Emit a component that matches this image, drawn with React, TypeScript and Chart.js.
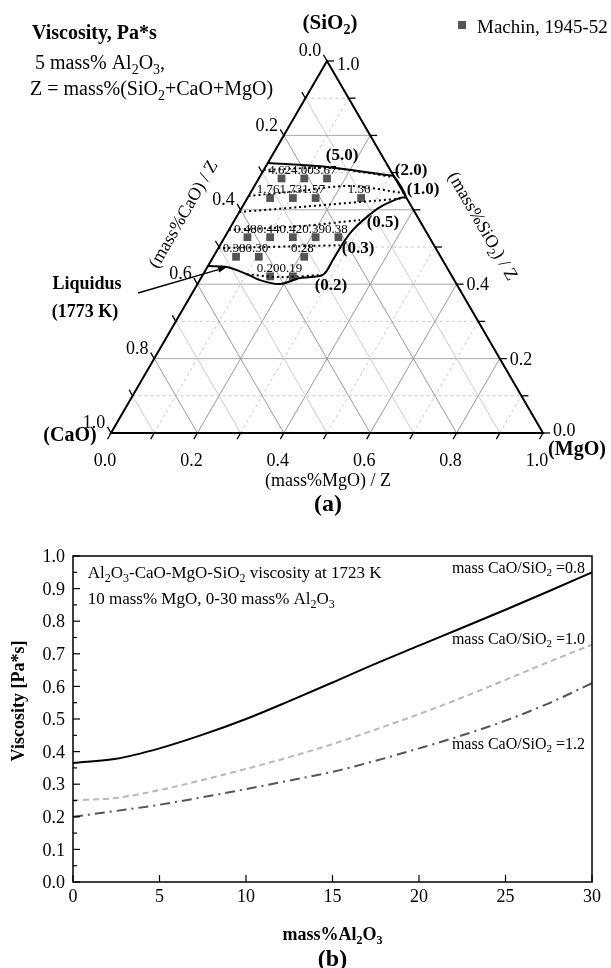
import React, { useEffect, useRef } from "react";
import { Chart, registerables } from "chart.js";
Chart.register(...registerables);

const FONT = '"Liberation Serif", "Times New Roman", Times, serif';
const SQ3_2 = Math.sqrt(3) / 2;

// ---------------- Panel (a): ternary ----------------
const AL2O3_PCT = 5;
const Z_PCT = 100 - AL2O3_PCT;
// Machin, 1945-52 measurements (mass%, Al2O3 = 5)
const machinSiO2 = [65, 65, 65, 60, 60, 60, 60, 50, 50, 50, 50, 50, 45, 45, 45, 40, 40];
const machinMgO = [5, 10, 15, 5, 10, 15, 25, 5, 10, 15, 20, 25, 5, 10, 20, 15, 20];
const machinVisc = ["4.62", "4.00", "3.67", "1.76", "1.73", "1.57", "1.36", "0.48", "0.44", "0.42", "0.39", "0.38", "0.38", "0.30", "0.28", "0.20", "0.19"];

// Liquidus at 1773 K (fractions SiO2/Z, MgO/Z)
const liquidusSiO2 = [0.726, 0.715, 0.6935, 0.69, 0.635, 0.632, 0.6075, 0.581, 0.546, 0.511, 0.465, 0.425, 0.4167, 0.4005, 0.411, 0.427, 0.446, 0.449];
const liquidusMgO = [0.0, 0.1425, 0.292, 0.31, 0.365, 0.353, 0.319, 0.302, 0.287, 0.282, 0.281, 0.278, 0.229, 0.191, 0.139, 0.101, 0.0455, 0.0];

// Iso-viscosity lines (dotted)
const iso20SiO2 = [0.707, 0.712, 0.688];
const iso20MgO = [0.0, 0.151, 0.312];
const iso10SiO2 = [0.637, 0.651, 0.664, 0.645];
const iso10MgO = [0.0, 0.112, 0.221, 0.355];
const iso07SiO2 = [0.594, 0.6075, 0.63];
const iso07MgO = [0.0, 0.134, 0.355];
const iso05SiO2 = [0.546, 0.556, 0.5726];
const iso05MgO = [0.0, 0.16, 0.29];
const iso03SiO2 = [0.497, 0.5, 0.505];
const iso03MgO = [0.0, 0.111, 0.277];
const iso02SiO2 = [0.427, 0.419, 0.425];
const iso02MgO = [0.101, 0.181, 0.278];

const isoLabels = ["(5.0)", "(2.0)", "(1.0)", "(0.5)", "(0.3)", "(0.2)"];
const isoLabelSiO2 = [0.75, 0.7097, 0.6586, 0.5699, 0.5, 0.4005];
const isoLabelMgO = [0.16, 0.3396, 0.393, 0.3446, 0.3218, 0.309];

const gridLevels = [0.1, 0.2, 0.3, 0.4, 0.5, 0.6, 0.7, 0.8, 0.9];
const tickLevels = [0, 0.1, 0.2, 0.3, 0.4, 0.5, 0.6, 0.7, 0.8, 0.9, 1.0];
const caoTickLabels = ["0.0", "0.2", "0.4", "0.6", "0.8", "1.0"];
const sio2TickLabels = ["1.0", "0.4", "0.2", "0.0"];
const mgoTickLabels = ["0.0", "0.2", "0.4", "0.6", "0.8", "1.0"];

// ---------------- Panel (b): line chart ----------------
const al2o3 = [0, 2.5, 5, 7.5, 10, 12.5, 15, 17.5, 20, 22.5, 25, 27.5, 30];
const visc08 = [0.365, 0.378, 0.41, 0.452, 0.5, 0.555, 0.612, 0.67, 0.725, 0.78, 0.835, 0.892, 0.95];
const visc10 = [0.25, 0.258, 0.282, 0.313, 0.347, 0.383, 0.423, 0.468, 0.515, 0.566, 0.62, 0.675, 0.728];
const visc12 = [0.2, 0.218, 0.237, 0.26, 0.285, 0.311, 0.338, 0.372, 0.41, 0.45, 0.495, 0.548, 0.61];
const seriesLabels = ["mass CaO/SiO_2 =0.8", "mass CaO/SiO_2 =1.0", "mass CaO/SiO_2 =1.2"];
const seriesLabelY = [0.966, 0.748, 0.426];
const xTickValues = [0, 5, 10, 15, 20, 25, 30];
const yTickValues = [0, 0.1, 0.2, 0.3, 0.4, 0.5, 0.6, 0.7, 0.8, 0.9, 1.0];

// ---------------- helpers ----------------
function richSegs(str: string) {
  const segs: { t: string; sub: boolean }[] = [];
  let buf = "";
  for (let i = 0; i < str.length; i++) {
    if (str[i] === "_" && i + 1 < str.length) {
      if (buf) { segs.push({ t: buf, sub: false }); buf = ""; }
      segs.push({ t: str[i + 1], sub: true });
      i++;
    } else buf += str[i];
  }
  if (buf) segs.push({ t: buf, sub: false });
  return segs;
}

function drawText(ctx: CanvasRenderingContext2D, str: string, x: number, y: number,
  o: { size: number; bold?: boolean; align?: "left" | "center" | "right"; color?: string; rotate?: number }) {
  const segs = richSegs(str);
  const font = (sz: number) => `${o.bold ? "bold " : ""}${sz}px ${FONT}`;
  const subSize = Math.round(o.size * 0.68);
  let w = 0;
  const ws = segs.map((s) => { ctx.font = font(s.sub ? subSize : o.size); const m = ctx.measureText(s.t).width; w += m; return m; });
  ctx.save();
  ctx.translate(x, y);
  if (o.rotate) ctx.rotate(o.rotate);
  ctx.fillStyle = o.color || "#000";
  ctx.textBaseline = "alphabetic";
  ctx.textAlign = "left";
  let cx = o.align === "left" ? 0 : o.align === "right" ? -w : -w / 2;
  const base = o.size * 0.34;
  segs.forEach((s, i) => {
    ctx.font = font(s.sub ? subSize : o.size);
    ctx.fillText(s.t, cx, base + (s.sub ? o.size * 0.24 : 0));
    cx += ws[i];
  });
  ctx.restore();
}

const tern = (s: number, m: number) => ({ x: m + s / 2, y: s * SQ3_2 });
const toPts = (S: number[], M: number[]) => S.map((s, i) => tern(s, M[i]));

type Pt = [number, number];

const ternaryDecor = {
  id: "ternaryDecor",
  beforeDatasetsDraw(chart: any) {
    const { ctx, scales } = chart;
    const P = (s: number, m: number): Pt => [scales.x.getPixelForValue(m + s / 2), scales.y.getPixelForValue(s * SQ3_2)];
    const seg = (p: Pt, q: Pt) => { ctx.beginPath(); ctx.moveTo(p[0], p[1]); ctx.lineTo(q[0], q[1]); ctx.stroke(); };
    ctx.save();
    ctx.lineWidth = 1;
    for (const v of gridLevels) {
      const major = Math.round(v * 10) % 2 === 0;
      ctx.strokeStyle = major ? "#a8a8a8" : "#c9c9c9";
      ctx.setLineDash(major ? [] : [3, 3]);
      seg(P(v, 0), P(v, 1 - v));
      ctx.strokeStyle = major ? "#9a9a9a" : "#cdcdcd";
      ctx.setLineDash([]);
      seg(P(1 - v, 0), P(0, 1 - v));
      ctx.strokeStyle = major ? "#9a9a9a" : "#c9c9c9";
      ctx.setLineDash(major ? [] : [3, 3]);
      seg(P(0, v), P(1 - v, v));
    }
    ctx.restore();
  },
  afterDatasetsDraw(chart: any) {
    const { ctx, scales } = chart;
    const P = (s: number, m: number): Pt => [scales.x.getPixelForValue(m + s / 2), scales.y.getPixelForValue(s * SQ3_2)];
    const seg = (p: Pt, q: Pt) => { ctx.beginPath(); ctx.moveTo(p[0], p[1]); ctx.lineTo(q[0], q[1]); ctx.stroke(); };
    ctx.save();
    ctx.setLineDash([]);
    ctx.strokeStyle = "#000";
    ctx.lineWidth = 2;
    const A = P(1, 0), B = P(0, 0), C = P(0, 1);
    ctx.beginPath(); ctx.moveTo(A[0], A[1]); ctx.lineTo(B[0], B[1]); ctx.lineTo(C[0], C[1]); ctx.closePath(); ctx.stroke();
    // ticks
    ctx.lineWidth = 1.3;
    const T = 7;
    for (const v of tickLevels) {
      const pl = P(1 - v, 0); seg(pl, [pl[0] - T * 0.5, pl[1] - T * SQ3_2]);
      const pr = P(v, 1 - v); seg(pr, [pr[0] + T, pr[1]]);
      const pb = P(0, v); seg(pb, [pb[0] - T * 0.5, pb[1] + T * SQ3_2]);
    }
    // tick labels
    caoTickLabels.forEach((t) => { const v = parseFloat(t); const p = P(1 - v, 0); drawText(ctx, t, p[0] - 17, p[1] - 11, { size: 18 }); });
    sio2TickLabels.forEach((t) => { const v = parseFloat(t); const p = P(v, 1 - v); drawText(ctx, t, p[0] + 10, p[1] + (v === 1 ? 3 : v === 0 ? -3 : 0), { size: 18, align: "left" }); });
    mgoTickLabels.forEach((t) => { const v = parseFloat(t); const p = P(0, v); drawText(ctx, t, p[0] - 6, p[1] + 27, { size: 18 }); });
    // corner component labels
    drawText(ctx, "(SiO_2)", A[0] + 3, A[1] - 39, { size: 21, bold: true });
    drawText(ctx, "(CaO)", B[0] - 41, B[1] + 1, { size: 20, bold: true });
    drawText(ctx, "(MgO)", C[0] + 34, C[1] + 15, { size: 20, bold: true });
    // axis titles
    const lm = P(0.6, 0);
    drawText(ctx, "(mass%CaO) / Z", lm[0] - 58, lm[1] + 4, { size: 18, rotate: -Math.PI / 3 });
    const rm = P(0.6, 0.4);
    drawText(ctx, "(mass%SiO_2) / Z", rm[0] + 70, rm[1] + 16, { size: 18, rotate: Math.PI / 3 });
    const bm = P(0, 0.5);
    drawText(ctx, "(mass%MgO) / Z", bm[0] + 1, bm[1] + 47, { size: 18 });
    drawText(ctx, "(a)", bm[0] + 1, bm[1] + 70, { size: 24, bold: true });
    // iso-viscosity labels
    isoLabels.forEach((t, i) => { const p = P(isoLabelSiO2[i], isoLabelMgO[i]); drawText(ctx, t, p[0], p[1], { size: 17, bold: true }); });
    // Machin values
    machinVisc.forEach((t, i) => { const p = P(machinSiO2[i] / Z_PCT, machinMgO[i] / Z_PCT); drawText(ctx, t, p[0] - 2, p[1] - 9, { size: 13 }); });
    // Liquidus annotation + arrow
    drawText(ctx, "Liquidus", 87, 283, { size: 18, bold: true });
    drawText(ctx, "(1773 K)", 85, 311, { size: 18, bold: true });
    const tip = P(liquidusSiO2[16], liquidusMgO[16]);
    const st: Pt = [138, 293];
    ctx.lineWidth = 1.5;
    const ang = Math.atan2(tip[1] - st[1], tip[0] - st[0]);
    const back: Pt = [tip[0] - 9 * Math.cos(ang), tip[1] - 9 * Math.sin(ang)];
    seg(st, back);
    ctx.fillStyle = "#000";
    ctx.beginPath();
    ctx.moveTo(tip[0], tip[1]);
    ctx.lineTo(back[0] + 3 * Math.sin(ang), back[1] - 3 * Math.cos(ang));
    ctx.lineTo(back[0] - 3 * Math.sin(ang), back[1] + 3 * Math.cos(ang));
    ctx.closePath(); ctx.fill();
    // header text
    drawText(ctx, "Viscosity, Pa*s", 32, 32, { size: 20, bold: true, align: "left" });
    drawText(ctx, `${AL2O3_PCT} mass% Al_2O_3,`, 35, 62, { size: 20, align: "left" });
    drawText(ctx, "Z = mass%(SiO_2+CaO+MgO)", 30, 88, { size: 20, align: "left" });
    // legend
    ctx.fillStyle = "#555";
    ctx.fillRect(458, 21, 8, 8);
    drawText(ctx, "Machin, 1945-52", 477, 27, { size: 19, align: "left" });
    ctx.restore();
  },
};

const frameDecor = {
  id: "frameDecor",
  afterDatasetsDraw(chart: any) {
    const { ctx, chartArea: ca, scales } = chart;
    const X = (v: number) => scales.x.getPixelForValue(v);
    const Y = (v: number) => scales.y.getPixelForValue(v);
    ctx.save();
    ctx.setLineDash([]);
    ctx.strokeStyle = "#000";
    ctx.lineWidth = 1.5;
    ctx.strokeRect(ca.left, ca.top, ca.right - ca.left, ca.bottom - ca.top);
    ctx.lineWidth = 1.2;
    yTickValues.forEach((v, i) => {
      const py = Y(v);
      ctx.beginPath(); ctx.moveTo(ca.left, py); ctx.lineTo(ca.left + 7, py); ctx.stroke();
      if (i < yTickValues.length - 1) {
        const pm = Y(v + 0.05);
        ctx.beginPath(); ctx.moveTo(ca.left, pm); ctx.lineTo(ca.left + 4, pm); ctx.stroke();
      }
      drawText(ctx, v.toFixed(1), ca.left - 8, py, { size: 18, align: "right" });
    });
    xTickValues.forEach((v) => {
      const px = X(v);
      ctx.beginPath(); ctx.moveTo(px, ca.bottom); ctx.lineTo(px, ca.bottom - 7); ctx.stroke();
      drawText(ctx, String(v), px, ca.bottom + 14, { size: 18 });
    });
    const cx = (ca.left + ca.right) / 2;
    drawText(ctx, "mass%Al_2O_3", cx, ca.bottom + 52, { size: 18, bold: true });
    drawText(ctx, "(b)", cx, ca.bottom + 76, { size: 24, bold: true });
    drawText(ctx, "Viscosity [Pa*s]", 18, (ca.top + ca.bottom) / 2 - 18, { size: 18, bold: true, rotate: -Math.PI / 2 });
    drawText(ctx, "Al_2O_3-CaO-MgO-SiO_2 viscosity at 1723 K", X(0.85), Y(0.95), { size: 17, align: "left" });
    drawText(ctx, "10 mass% MgO, 0-30 mass% Al_2O_3", X(0.85), Y(0.87), { size: 17, align: "left" });
    seriesLabels.forEach((t, i) => drawText(ctx, t, X(29.6), Y(seriesLabelY[i]), { size: 16, align: "right" }));
    ctx.restore();
  },
};

const lineDs = (S: number[], M: number[], dash: number[]) => ({
  data: toPts(S, M), showLine: true, borderColor: "#000", borderWidth: 2, borderDash: dash,
  pointRadius: 0, tension: 0.3, fill: false,
});

export default function App() {
  const refA = useRef<HTMLCanvasElement>(null);
  const refB = useRef<HTMLCanvasElement>(null);
  useEffect(() => {
    const dotted = [2, 3];
    const chartA = new Chart(refA.current as HTMLCanvasElement, {
      type: "scatter",
      data: {
        datasets: [
          lineDs(liquidusSiO2, liquidusMgO, []),
          lineDs(iso20SiO2, iso20MgO, dotted),
          lineDs(iso10SiO2, iso10MgO, dotted),
          lineDs(iso07SiO2, iso07MgO, dotted),
          lineDs(iso05SiO2, iso05MgO, dotted),
          lineDs(iso03SiO2, iso03MgO, dotted),
          lineDs(iso02SiO2, iso02MgO, dotted),
          {
            data: machinSiO2.map((s, i) => tern(s / Z_PCT, machinMgO[i] / Z_PCT)),
            showLine: false, pointStyle: "rect", pointRadius: 5.5,
            backgroundColor: "#555", borderColor: "#555", borderWidth: 0,
          },
        ] as any,
      },
      options: {
        responsive: false, animation: false, devicePixelRatio: 1, events: [],
        layout: { padding: { left: 111, right: 68, top: 61, bottom: 87 } },
        scales: {
          x: { type: "linear", min: 0, max: 1, display: false },
          y: { type: "linear", min: 0, max: SQ3_2, display: false },
        },
        plugins: { legend: { display: false }, tooltip: { enabled: false } },
      },
      plugins: [ternaryDecor],
    } as any);

    const mk = (vals: number[], color: string, dash: number[]) => ({
      data: al2o3.map((x, i) => ({ x, y: vals[i] })), showLine: true, borderColor: color,
      borderWidth: 2, borderDash: dash, pointRadius: 0, tension: 0.4, cubicInterpolationMode: "monotone", fill: false,
    });
    const chartB = new Chart(refB.current as HTMLCanvasElement, {
      type: "scatter",
      data: {
        datasets: [
          mk(visc08, "#000", []),
          mk(visc10, "#b8b8b8", [6, 4]),
          mk(visc12, "#555", [10, 5, 2, 5]),
        ] as any,
      },
      options: {
        responsive: false, animation: false, devicePixelRatio: 1, events: [],
        layout: { padding: { left: 73, right: 19, top: 36, bottom: 86 } },
        scales: {
          x: { type: "linear", min: 0, max: 30, display: false },
          y: { type: "linear", min: 0, max: 1, display: false },
        },
        plugins: { legend: { display: false }, tooltip: { enabled: false } },
      },
      plugins: [frameDecor],
    } as any);
    return () => { chartA.destroy(); chartB.destroy(); };
  }, []);
  return (
    <div style={{ position: "absolute", left: 0, top: 0, width: 611, height: 968, background: "#fff" }}>
      <canvas ref={refA} width={611} height={520} style={{ display: "block", width: 611, height: 520 }} />
      <canvas ref={refB} width={611} height={448} style={{ display: "block", width: 611, height: 448 }} />
    </div>
  );
}
